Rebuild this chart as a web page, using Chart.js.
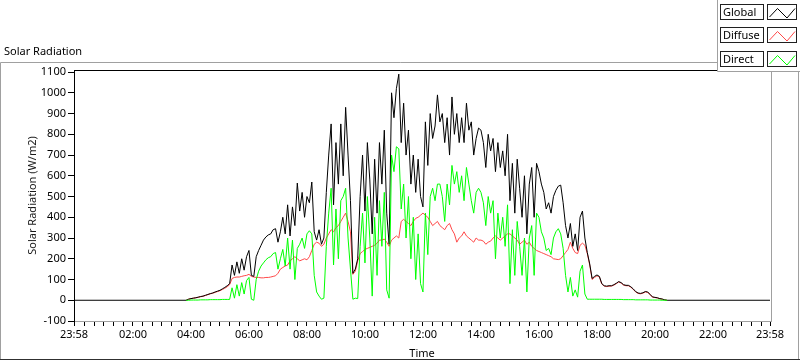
<!DOCTYPE html>
<html>
<head>
<meta charset="utf-8">
<script src="https://cdn.jsdelivr.net/npm/chart.js@4.4.1/dist/chart.umd.min.js"></script>
<style>
  html, body { margin: 0; padding: 0; background: #fff; }
  #wrap { width: 800px; height: 361px; position: relative; }
</style>
</head>
<body>
<div id="wrap"><canvas id="grafico"></canvas></div>
<script>
'use strict'

// minutes after midnight; axis runs 23:58 -> 23:58
const axisStart = -2
const axisEnd = 1438
const dayStartMin = 230
const stepMin = 5
const nightValue = 0

const xMajorTicks = [-2, 120, 240, 360, 480, 600, 720, 840, 960, 1080, 1200, 1320, 1438]
const xMajorLabels = ['23:58', '02:00', '04:00', '06:00', '08:00', '10:00', '12:00', '14:00', '16:00', '18:00', '20:00', '22:00', '23:58']
const xMinorStep = 20
const yTicks = [-100, 0, 100, 200, 300, 400, 500, 600, 700, 800, 900, 1000, 1100]

const seriesNames = ['Global', 'Diffuse', 'Direct']
const seriesColors = ['#000000', '#ff4848', '#00ff00']

// W/m2, one reading every 5 min from 03:50 to 20:25
const globalRad = [
    0, 5, 8, 10, 12, 15, 18, 20, 24, 28,
    32, 35, 40, 44, 48, 55, 62, 70, 80, 170,
    120, 185, 130, 200, 145, 210, 240, 120, 115, 210,
    240, 265, 290, 305, 315, 320, 340, 345, 280, 330,
    400, 320, 460, 310, 450, 360, 565, 430, 520, 400,
    500, 470, 570, 330, 290, 340, 270, 300, 520, 700,
    850, 460, 760, 560, 850, 600, 930, 700, 480, 130,
    150, 200, 500, 700, 430, 760, 580, 320, 680, 420,
    760, 560, 820, 420, 270, 1000, 880, 1020, 1090, 760,
    950, 700, 820, 560, 700, 520, 680, 500, 450, 860,
    650, 900, 780, 840, 990, 860, 900, 760, 880, 700,
    980, 800, 900, 760, 880, 760, 950, 820, 860, 700,
    780, 830, 820, 760, 640, 800, 720, 780, 620, 760,
    640, 720, 600, 800, 480, 660, 420, 680, 540, 400,
    600, 320, 560, 640, 400, 660, 620, 560, 520, 440,
    470, 420, 500, 530, 550, 555, 470, 360, 300, 370,
    260, 320, 240, 400, 430, 300, 230, 175, 105, 115,
    122, 115, 80, 70, 68, 70, 70, 75, 82, 90,
    85, 75, 72, 72, 65, 55, 42, 35, 33, 36,
    42, 40, 28, 16, 14, 12, 8, 6, 2, 0
]

const diffuseRad = [
    0, 5, 8, 10, 12, 14, 17, 19, 23, 27,
    31, 34, 38, 42, 46, 52, 58, 65, 75, 105,
    110, 112, 112, 115, 118, 120, 125, 115, 112, 110,
    110, 108, 108, 110, 110, 112, 115, 118, 130, 150,
    158, 165, 170, 190, 200, 210, 200, 190, 195, 200,
    195, 210, 240, 270, 280, 275, 260, 270, 300, 320,
    340, 330, 350, 360, 380, 400, 420, 380, 330, 125,
    140, 190, 225, 235, 245, 250, 255, 260, 265, 275,
    290, 290, 295, 280, 260, 290, 300, 310, 300, 380,
    390, 380, 370, 360, 380, 395, 400, 410, 420, 410,
    400, 380, 360, 370, 380, 360, 350, 340, 360, 370,
    340, 320, 280, 300, 310, 330, 310, 300, 290, 280,
    300, 290, 290, 285, 270, 280, 285, 300, 310, 300,
    290, 300, 310, 320, 320, 310, 300, 290, 270, 280,
    290, 270, 280, 260, 250, 240, 235, 230, 225, 220,
    215, 210, 200, 198, 196, 200, 215, 230, 245, 280,
    250, 230, 225, 265, 275, 265, 225, 170, 100, 110,
    118, 112, 78, 68, 66, 68, 68, 73, 80, 88,
    83, 73, 70, 70, 63, 53, 40, 33, 31, 34,
    40, 38, 26, 15, 13, 11, 7, 5, 2, 0
]

const directRad = [
    0, 0, 1, 1, 1, 1, 2, 2, 2, 2,
    3, 3, 3, 3, 3, 4, 4, 4, 4, 60,
    10, 75, 20, 85, 30, 95, 110, 5, 0, 100,
    140, 165, 180, 195, 205, 210, 225, 230, 150, 200,
    245, 165, 300, 150, 290, 100, 250, 270, 300, 250,
    320, 335, 320, 120, 40, 20, 5, 10, 260, 420,
    540, 170, 440, 200, 480, 500, 540, 300, 150, 5,
    10, 8, 260, 420, 180, 500, 300, 20, 400, 120,
    480, 260, 520, 50, 10, 700, 620, 740, 730, 440,
    560, 300, 500, 200, 400, 100, 320, 80, 40, 420,
    220, 500, 540, 480, 560, 560, 500, 380, 560, 460,
    650, 560, 620, 520, 600, 480, 640, 560, 480, 420,
    520, 540, 520, 470, 360, 500, 420, 480, 200, 420,
    300, 400, 260, 460, 80, 340, 120, 380, 260, 120,
    300, 40, 300, 360, 120, 420, 400, 330, 300, 240,
    250, 220, 300, 330, 345, 320, 250, 120, 40, 110,
    20, 50, 15, 140, 170, 30, 5, 5, 5, 5,
    5, 5, 5, 4, 4, 4, 4, 4, 4, 4,
    4, 3, 3, 3, 3, 3, 2, 2, 2, 2,
    2, 2, 1, 1, 1, 1, 1, 0, 0, 0
]

const toPoints = function(values) {
    return values.map((v, i) => ({ x: dayStartMin + i * stepMin, y: v }))
}

// global line also covers the night part of the axis
const globalPoints = [{ x: axisStart, y: nightValue }, ...toPoints(globalRad), { x: axisEnd, y: nightValue }]

Chart.defaults.font.family = '"Noto Sans", sans-serif'
Chart.defaults.font.size = 11
Chart.defaults.color = '#000'

const fonte = '11px "Noto Sans", sans-serif'

const molduraPlugin = {
    id: 'moldura',
    beforeDraw(chart) {
        const ctx = chart.ctx
        ctx.save()
        ctx.fillStyle = '#fff'
        ctx.fillRect(0, 0, chart.width, chart.height)
        ctx.restore()
    },
    afterDraw(chart) {
        const ctx = chart.ctx
        const a = chart.chartArea
        ctx.save()
        ctx.lineWidth = 1

        // outer panel
        ctx.strokeStyle = '#a0a0a0'
        ctx.beginPath()
        ctx.moveTo(0.5, 360)
        ctx.lineTo(0.5, 62.5)
        ctx.lineTo(800, 62.5)
        ctx.moveTo(798.5, 62)
        ctx.lineTo(798.5, 360)
        ctx.stroke()
        ctx.strokeStyle = '#303030'
        ctx.beginPath()
        ctx.moveTo(0, 359.5)
        ctx.lineTo(800, 359.5)
        ctx.stroke()

        // plot frame: top black, right gray
        const top = Math.round(a.top) + 0.5
        ctx.strokeStyle = '#000'
        ctx.beginPath()
        ctx.moveTo(Math.round(a.left), top)
        ctx.lineTo(Math.round(a.right) + 2, top)
        ctx.stroke()
        ctx.strokeStyle = '#a0a0a0'
        ctx.beginPath()
        ctx.moveTo(Math.round(a.right) + 1.5, top)
        ctx.lineTo(Math.round(a.right) + 1.5, Math.round(a.bottom) + 1)
        ctx.stroke()

        // chart label
        ctx.fillStyle = '#000'
        ctx.font = fonte
        ctx.textBaseline = 'middle'
        ctx.textAlign = 'left'
        ctx.fillText('Solar Radiation', 4, 51.5)

        // legend
        ctx.fillStyle = '#fff'
        ctx.fillRect(717, 0, 83, 72)
        ctx.strokeStyle = '#a0a0a0'
        ctx.beginPath()
        ctx.moveTo(717.5, 0)
        ctx.lineTo(717.5, 71.5)
        ctx.lineTo(800, 71.5)
        ctx.stroke()

        seriesNames.forEach((nome, i) => {
            const y0 = 3.5 + i * 23.5
            ctx.strokeStyle = '#202020'
            ctx.strokeRect(720.5, Math.round(y0) + 0.5, 43, 15)
            ctx.strokeRect(767.5, Math.round(y0) + 0.5, 29, 15)
            ctx.fillStyle = '#000'
            ctx.fillText(nome, 723, Math.round(y0) + 8.5)

            const bx = 767.5
            const by = Math.round(y0) + 0.5
            ctx.strokeStyle = seriesColors[i]
            ctx.beginPath()
            ctx.moveTo(bx + 2, by + 12.5)
            ctx.lineTo(bx + 10, by + 4)
            ctx.lineTo(bx + 19.5, by + 13.5)
            ctx.lineTo(bx + 27.5, by + 4)
            ctx.stroke()
        })
        ctx.restore()
    }
}

const ctx = document.getElementById('grafico')

new Chart(ctx, {
    type: 'line',
    data: {
        datasets: [{
            label: seriesNames[2],
            data: toPoints(directRad),
            borderColor: seriesColors[2],
            order: 0
        }, {
            label: seriesNames[0],
            data: globalPoints,
            borderColor: seriesColors[0],
            order: 1
        }, {
            label: seriesNames[1],
            data: toPoints(diffuseRad),
            borderColor: seriesColors[1],
            order: 2
        }]
    },
    options: {
        responsive: true,
        maintainAspectRatio: false,
        devicePixelRatio: 1,
        animation: false,
        parsing: false,
        elements: {
            point: { radius: 0 },
            line: { borderWidth: 1, tension: 0 }
        },
        layout: {
            padding: { top: 70, left: 0, right: 30, bottom: 0 }
        },
        plugins: {
            legend: { display: false },
            tooltip: { enabled: false }
        },
        scales: {
            x: {
                type: 'linear',
                min: axisStart,
                max: axisEnd,
                afterBuildTicks: (scale) => {
                    let vals = new Set(xMajorTicks)
                    for (let m = xMinorStep; m < axisEnd; m += xMinorStep) vals.add(m)
                    scale.ticks = [...vals].sort((a, b) => a - b).map((v) => ({ value: v }))
                },
                afterFit: (scale) => { scale.height = 40 },
                ticks: {
                    autoSkip: false,
                    maxRotation: 0,
                    minRotation: 0,
                    padding: 2,
                    color: '#000',
                    callback: (v) => {
                        let i = xMajorTicks.indexOf(v)
                        return i >= 0 ? xMajorLabels[i] : ''
                    }
                },
                grid: {
                    drawOnChartArea: false,
                    tickLength: 5,
                    tickColor: '#000'
                },
                border: { color: '#a0a0a0' },
                title: {
                    display: true,
                    text: 'Time',
                    color: '#000',
                    padding: { top: 0, bottom: 1 }
                }
            },
            y: {
                type: 'linear',
                min: -100,
                max: 1110,
                afterBuildTicks: (scale) => {
                    scale.ticks = yTicks.map((v) => ({ value: v }))
                },
                afterFit: (scale) => { scale.width = 74 },
                ticks: {
                    padding: 2,
                    color: '#000',
                    callback: (v) => String(v)
                },
                grid: {
                    drawOnChartArea: false,
                    tickLength: 6,
                    tickColor: '#000'
                },
                border: { color: '#000' },
                title: {
                    display: true,
                    text: 'Solar Radiation (W/m2)',
                    color: '#1a1a1a',
                    padding: { top: 26, bottom: 0 }
                }
            }
        }
    },
    plugins: [molduraPlugin]
})
</script>
</body>
</html>
